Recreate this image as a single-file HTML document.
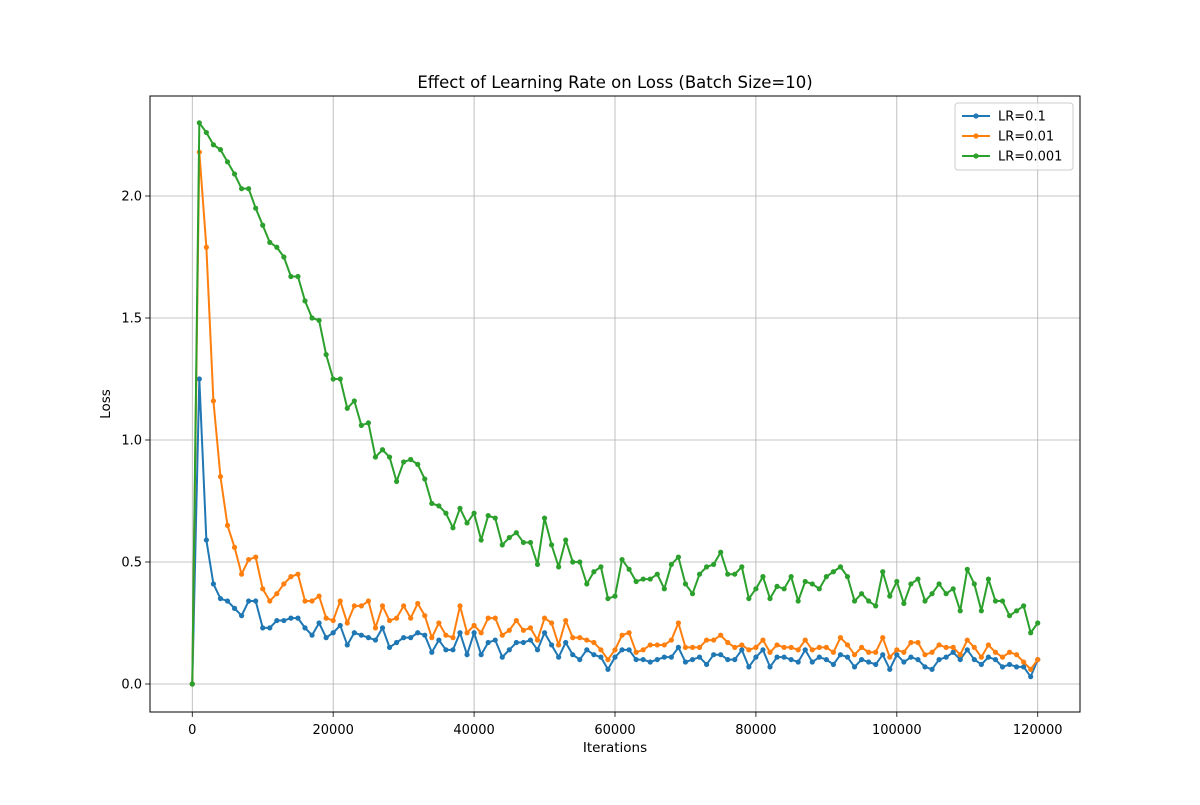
<!DOCTYPE html>
<html><head><meta charset="utf-8"><style>
body{margin:0;background:#fff;}
svg text{font-family:"DejaVu Sans","Liberation Sans",sans-serif;fill:#000;}
</style></head><body>
<svg id="chart" width="1200" height="800" xmlns="http://www.w3.org/2000/svg">
<rect width="1200" height="800" fill="#fff"/>
<text x="615" y="88" font-size="16.5" text-anchor="middle">Effect of Learning Rate on Loss (Batch Size=10)</text>
<text x="615" y="752" font-size="13.5" text-anchor="middle">Iterations</text>
<text x="110" y="404" font-size="13.5" text-anchor="middle" transform="rotate(-90 110 404)">Loss</text>
<g id="grid"></g>
<g id="series"></g>
<rect x="150" y="96" width="930" height="616" fill="none" stroke="#000" stroke-width="1"/>
<g id="ticks"></g>
<g id="legend"></g>
</svg>
<script>
const seriesNames = ["LR=0.1","LR=0.01","LR=0.001"];
const seriesColors = ["#1f77b4","#ff7f0e","#2ca02c"];
const iterStep = 1000;
const xTicks = [0,20000,40000,60000,80000,100000,120000];
const yTicks = [0.0,0.5,1.0,1.5,2.0];
const yTickLabels = ["0.0","0.5","1.0","1.5","2.0"];
const lossLR01 = [0,1.25,0.59,0.41,0.35,0.34,0.31,0.28,0.34,0.34,0.23,0.23,0.26,0.26,0.27,0.27,0.23,0.20,0.25,0.19,0.21,0.24,0.16,0.21,0.20,0.19,0.18,0.23,0.15,0.17,0.19,0.19,0.21,0.20,0.13,0.18,0.14,0.14,0.21,0.12,0.21,0.12,0.17,0.18,0.11,0.14,0.17,0.17,0.18,0.14,0.21,0.16,0.11,0.17,0.12,0.10,0.14,0.12,0.11,0.06,0.11,0.14,0.14,0.10,0.10,0.09,0.10,0.11,0.11,0.15,0.09,0.10,0.11,0.08,0.12,0.12,0.10,0.10,0.14,0.07,0.11,0.14,0.07,0.11,0.11,0.10,0.09,0.14,0.09,0.11,0.10,0.08,0.12,0.11,0.07,0.10,0.09,0.08,0.12,0.06,0.12,0.09,0.11,0.10,0.07,0.06,0.10,0.11,0.13,0.10,0.14,0.10,0.08,0.11,0.10,0.07,0.08,0.07,0.07,0.03,0.10];
const lossLR001 = [0,2.18,1.79,1.16,0.85,0.65,0.56,0.45,0.51,0.52,0.39,0.34,0.37,0.41,0.44,0.45,0.34,0.34,0.36,0.27,0.26,0.34,0.25,0.32,0.32,0.34,0.23,0.32,0.26,0.27,0.32,0.27,0.33,0.28,0.19,0.25,0.20,0.19,0.32,0.21,0.24,0.21,0.27,0.27,0.20,0.22,0.26,0.22,0.23,0.18,0.27,0.25,0.16,0.26,0.19,0.19,0.18,0.17,0.14,0.10,0.14,0.20,0.21,0.13,0.14,0.16,0.16,0.16,0.18,0.25,0.15,0.15,0.15,0.18,0.18,0.20,0.17,0.15,0.16,0.14,0.15,0.18,0.13,0.16,0.15,0.15,0.14,0.18,0.14,0.15,0.15,0.13,0.19,0.16,0.12,0.15,0.13,0.13,0.19,0.11,0.14,0.13,0.17,0.17,0.12,0.13,0.16,0.15,0.15,0.12,0.18,0.15,0.11,0.16,0.13,0.11,0.13,0.12,0.09,0.06,0.10];
const lossLR0001 = [0,2.30,2.26,2.21,2.19,2.14,2.09,2.03,2.03,1.95,1.88,1.81,1.79,1.75,1.67,1.67,1.57,1.50,1.49,1.35,1.25,1.25,1.13,1.16,1.06,1.07,0.93,0.96,0.93,0.83,0.91,0.92,0.90,0.84,0.74,0.73,0.70,0.64,0.72,0.66,0.70,0.59,0.69,0.68,0.57,0.60,0.62,0.58,0.58,0.49,0.68,0.57,0.48,0.59,0.50,0.50,0.41,0.46,0.48,0.35,0.36,0.51,0.47,0.42,0.43,0.43,0.45,0.39,0.49,0.52,0.41,0.37,0.45,0.48,0.49,0.54,0.45,0.45,0.48,0.35,0.39,0.44,0.35,0.40,0.39,0.44,0.34,0.42,0.41,0.39,0.44,0.46,0.48,0.44,0.34,0.37,0.34,0.32,0.46,0.36,0.42,0.33,0.41,0.43,0.34,0.37,0.41,0.37,0.39,0.30,0.47,0.41,0.30,0.43,0.34,0.34,0.28,0.30,0.32,0.21,0.25];
const allSeries = [lossLR01, lossLR001, lossLR0001];

const NS="http://www.w3.org/2000/svg";
const X0=150,X1=1080,Y0=96,Y1=712;
const xMin=-6000,xMax=126000,yMin=-0.1148,yMax=2.4098;
const xs=v=>X0+(v-xMin)/(xMax-xMin)*(X1-X0);
const ys=v=>Y1-(v-yMin)/(yMax-yMin)*(Y1-Y0);
function mk(tag,attrs,parent){const e=document.createElementNS(NS,tag);for(const k in attrs)e.setAttribute(k,attrs[k]);parent.appendChild(e);return e;}
const grid=document.getElementById('grid'),ticks=document.getElementById('ticks'),sg=document.getElementById('series'),lg=document.getElementById('legend');
xTicks.forEach(t=>{const x=xs(t);
 const g=mk('line',{x1:x,x2:x,y1:Y0,y2:Y1,stroke:'#b0b0b0','stroke-width':0.8},grid);
 
 
 const tk=mk('line',{x1:x,x2:x,y1:Y1,y2:Y1+4.9,stroke:'#000','stroke-width':0.8},ticks);
 
 
 const lb=mk('text',{x:x,y:Y1+22,'font-size':13,'text-anchor':'middle'},ticks);lb.textContent=String(t);
 
 
});
yTicks.forEach((t,i)=>{const y=ys(t);
 const g=mk('line',{x1:X0,x2:X1,y1:y,y2:y,stroke:'#b0b0b0','stroke-width':0.8},grid);
 
 
 const tk=mk('line',{x1:X0-4.9,x2:X0,y1:y,y2:y,stroke:'#000','stroke-width':0.8},ticks);
 
 
 const lb=mk('text',{x:X0-8,y:y+4.5,'font-size':13,'text-anchor':'end'},ticks);lb.textContent=yTickLabels[i];
 
 
});
allSeries.forEach((data,s)=>{
 const pts=data.map((v,i)=>xs(i*iterStep).toFixed(2)+','+ys(v).toFixed(2)).join(' ');
 const pl=mk('polyline',{points:pts,fill:'none',stroke:seriesColors[s],'stroke-width':2,'stroke-linejoin':'round'},sg);
 
 
 data.forEach((v,i)=>{const c=mk('circle',{cx:xs(i*iterStep),cy:ys(v),r:2.6,fill:seriesColors[s]},sg);
  
  });
});
const box=mk('rect',{x:955,y:103,width:118,height:67,rx:3,fill:'#fff','fill-opacity':0.8,stroke:'#ccc'},lg);


seriesNames.forEach((n,i)=>{const y=116+i*20;
 const l=mk('line',{x1:962,x2:990,y1:y,y2:y,stroke:seriesColors[i],'stroke-width':2},lg);
 
 
 const c=mk('circle',{cx:976,cy:y,r:2.6,fill:seriesColors[i]},lg);
 
 
 const t=mk('text',{x:998,y:y+4.5,'font-size':13},lg);t.textContent=n;
 
 
});
</script>
</body></html>
